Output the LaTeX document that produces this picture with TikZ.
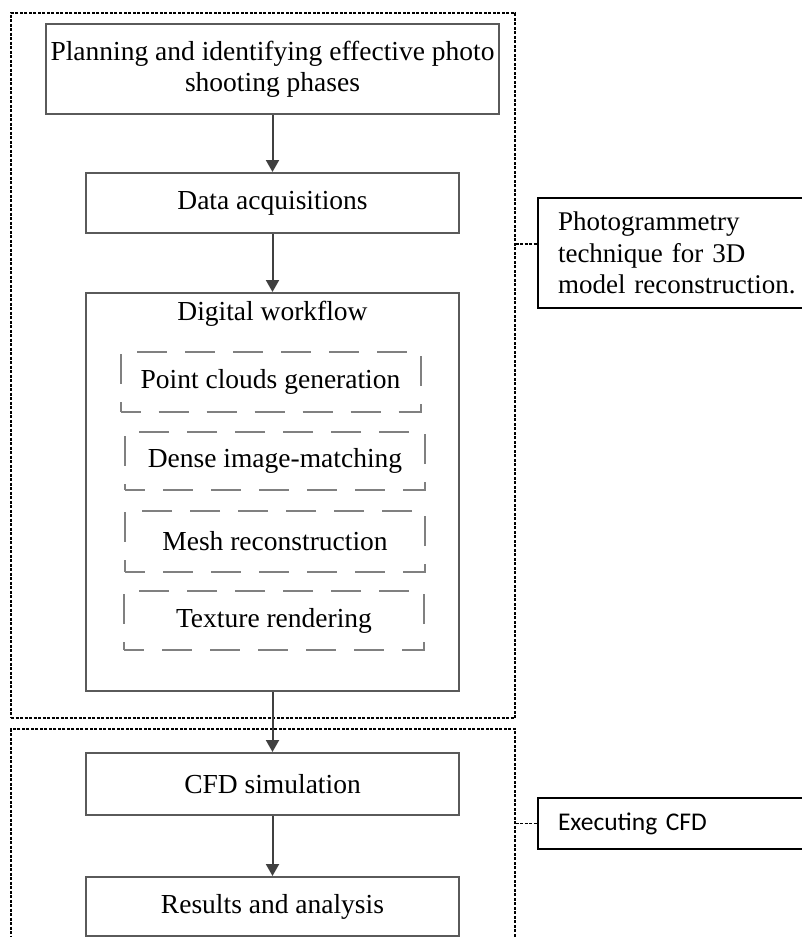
\documentclass[tikz,border=0pt]{standalone}
\usepackage{fontspec}
\setmainfont{Liberation Serif}
\newfontfamily\calib{Carlito}
\usetikzlibrary{arrows.meta,calc}
\definecolor{boxgray}{HTML}{5A5A5A}
\definecolor{dashgray}{HTML}{808080}
\definecolor{arrgray}{HTML}{404040}
\tikzset{
  mainbox/.style={draw=boxgray, line width=2pt, rectangle, inner sep=0pt, align=center,
    font=\fontsize{27.5}{31}\selectfont},
  subbox/.style={draw=dashgray, line width=2pt, rectangle, inner sep=0pt, align=center,
    dash pattern=on 30pt off 18pt, dash phase=10pt, minimum width=300pt,
    font=\fontsize{27.5}{31}\selectfont},
  groupbox/.style={draw=black, line width=1.4pt, rectangle, inner sep=0pt,
    dash pattern=on 3pt off 1.5pt},
  sidebox/.style={draw=black, line width=2pt, rectangle, anchor=north west, inner xsep=20pt,
    inner ysep=0pt, align=left, minimum width=300pt},
  arr/.style={draw=arrgray, line width=2pt, -{Triangle[length=12pt,width=13pt]}, shorten >=0pt},
  link/.style={draw=black, line width=1.4pt, dash pattern=on 3pt off 1.5pt},
}
\begin{document}
\begin{tikzpicture}[x=1pt,y=-1pt]
\useasboundingbox (0,0) rectangle (802,937);
\clip (0,0) rectangle (802,937);
\fill[white] (0,0) rectangle (802,937);

% group boxes
\node[groupbox, minimum width=504pt, minimum height=705pt] (grp1) at (263,365.5) {};
\node[groupbox, minimum width=504pt, minimum height=230pt] (grp2) at (263,844) {};

% main flow
\node[mainbox, minimum width=453pt, minimum height=90pt] (plan) at (272.5,69)
  {Planning and identifying effective photo\\shooting phases};
\node[mainbox, minimum width=373pt, minimum height=60pt] (data) at (272.5,203) {Data acquisitions};
\node[mainbox, minimum width=373pt, minimum height=398pt] (dig) at (272.5,492) {};
\node[font=\fontsize{27.5}{31}\selectfont, inner sep=0pt] (diglbl) at (272.5,314) {Digital workflow};

\node[subbox, minimum height=60pt] (pc) at (270.5,382) {Point clouds generation};
\node[subbox, minimum height=58pt] (dense) at (275,461) {Dense image-matching};
\node[subbox, minimum height=61pt] (mesh) at (275,541.5) {Mesh reconstruction};
\node[subbox, minimum height=59pt] (tex) at (274,620.5) {Texture rendering};

\node[mainbox, minimum width=373pt, minimum height=62pt] (cfd) at (272.5,784) {CFD simulation};
\node[mainbox, minimum width=373pt, minimum height=59pt] (res) at (272.5,906.5) {Results and analysis};

% side boxes
\node[sidebox, minimum height=110pt, text width=260pt,
  font=\fontsize{27}{31.5}\selectfont] (photo) at (537,197)
  {\raisebox{-4pt}{\parbox{260pt}{Photogrammetry\\technique for 3D\\model reconstruction.}}};
\node[sidebox, minimum height=51pt, text width=260pt,
  font=\calib\fontsize{25.5}{29}\selectfont] (exec) at (537,797) {Executing CFD};

% arrows
\draw[arr] (plan) -- (data);
\draw[arr] (data) -- (dig);
\draw[arr] (dig) -- (cfd);
\draw[arr] (cfd) -- (res);

% links
\coordinate (plink) at ($(photo.west)+(0,-9)$);
\draw[link] (plink -| grp1.east) -- (plink);
\draw[link] (exec.west -| grp2.east) -- (exec.west);
\end{tikzpicture}
\end{document}
